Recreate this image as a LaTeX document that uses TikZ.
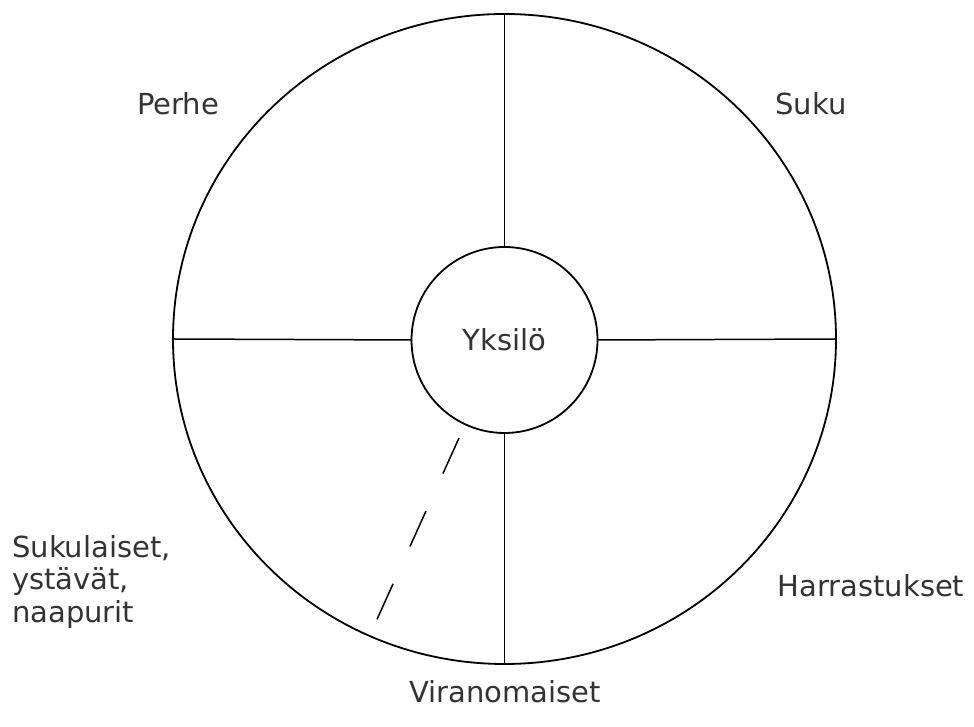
\documentclass[tikz,border=0pt]{standalone}
\usepackage{fontspec}
\setmainfont{DejaVu Sans}
\usetikzlibrary{shapes.geometric}

\tikzset{
  ring/.style={draw,ellipse,line width=1.8pt,minimum width=663pt,minimum height=650pt,inner sep=0pt,outer sep=0pt},
  core/.style={draw,circle,line width=1.8pt,minimum size=186pt,inner sep=0pt,outer sep=0pt},
  spoke/.style={line width=1.5pt},
  lbl/.style={inner sep=0pt,align=left,text=black!80}
}

\begin{document}
\begin{tikzpicture}[x=1pt,y=1pt,font=\fontsize{29}{32.5}\selectfont]
  \useasboundingbox (0,0) rectangle (974,727);
  \node[ring] (ring) at (504.5,388) {};
  \node[core,text=black!80] (core) at (504.5,387) {Yksilö};
  % the four spokes
  \draw[spoke] (core.north) -- (ring.north);
  \draw[spoke] (core.south) -- (ring.south);
  \draw[spoke] (core.west) -- (ring.west);
  \draw[spoke] (core.east) -- (ring.east);
  % dashed spoke
  \coordinate (dTop) at (459,289);
  \coordinate (dBot) at (374,101);
  \draw[spoke,dash pattern=on 39pt off 41pt] (dTop) -- (dBot);
  % sectors
  \node[lbl] (perhe) at (178,623) {Perhe};
  \node[lbl] (suku) at (811,623) {Suku};
  \node[lbl,anchor=west] (sukulaiset) at (12,145) {Sukulaiset,\\ystävät,\\naapurit};
  \node[lbl] (harrastukset) at (871,141) {Harrastukset};
  \node[lbl] (viranomaiset) at (505,35) {Viranomaiset};
\end{tikzpicture}
\end{document}
